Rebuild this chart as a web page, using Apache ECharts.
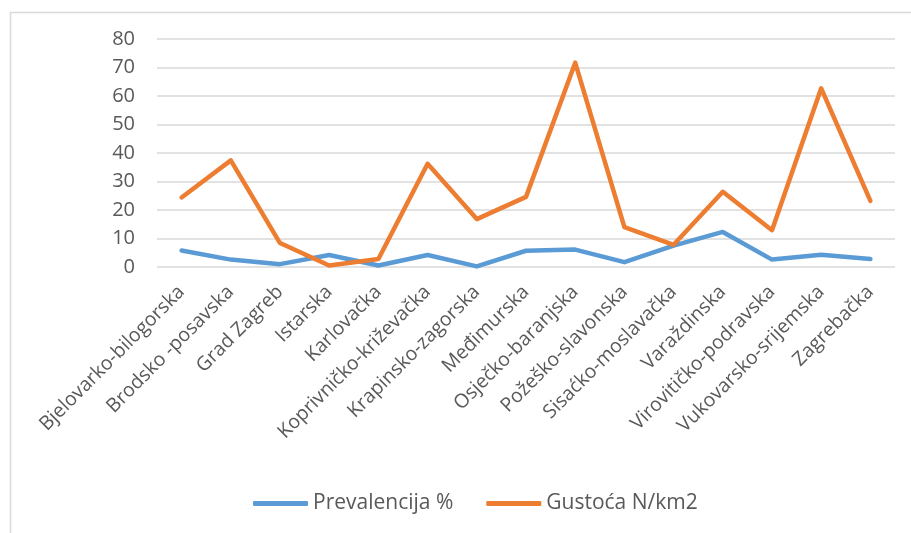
<!DOCTYPE html>
<html>
<head>
<meta charset="utf-8">
<script src="https://cdn.jsdelivr.net/npm/echarts@6/dist/echarts.min.js"></script>
<style>html,body{margin:0;padding:0;background:#fff;}#c{width:911px;height:533px;}</style>
</head>
<body>
<div id="c"></div>
<script>
const categories = ["Bjelovarko-bilogorska","Brodsko -posavska","Grad Zagreb","Istarska","Karlovačka","Koprivničko-križevačka","Krapinsko-zagorska","Međimurska","Osječko-baranjska","Požeško-slavonska","Sisaćko-moslavačka","Varaždinska","Virovitičko-podravska","Vukovarsko-srijemska","Zagrebačka"];
const prevalencija = [5.8, 2.6, 1.0, 4.2, 0.5, 4.2, 0.2, 5.7, 6.1, 1.7, 7.5, 12.3, 2.6, 4.3, 2.8];
const gustoca = [24.4, 37.4, 8.4, 0.5, 2.8, 36.2, 16.8, 24.6, 71.7, 14.0, 7.8, 26.4, 12.9, 62.7, 23.2];
const yTicks = {min: 0, max: 80, interval: 10};

const FONT = '"Open Sans", sans-serif';
const chart = echarts.init(document.getElementById('c'));
chart.setOption({
  animation: false,
  backgroundColor: '#fff',
  graphic: [{
    type: 'rect', left: 8, top: 10, silent: true,
    shape: {x: 0, y: 0, width: 1200, height: 1200},
    style: {fill: 'none', stroke: '#d9d9d9', lineWidth: 1.5}
  }],
  grid: {left: 157, right: 16, top: 39, bottom: 266, containLabel: false},
  legend: {
    top: 488, left: 248,
    icon: 'roundRect', itemWidth: 55, itemHeight: 5, itemGap: 33,
    textStyle: {color: '#595959', fontSize: 21, fontFamily: FONT},
    data: ['Prevalencija %', 'Gustoća N/km2']
  },
  xAxis: {
    type: 'category', data: categories, boundaryGap: true,
    axisLine: {show: false}, axisTick: {show: false},
    axisLabel: {rotate: 45, interval: 0, color: '#595959', fontSize: 19.5, fontFamily: FONT, margin: 22}
  },
  yAxis: {
    type: 'value', min: yTicks.min, max: yTicks.max, interval: yTicks.interval,
    axisLine: {show: false}, axisTick: {show: false},
    axisLabel: {color: '#595959', fontSize: 20, fontFamily: FONT, margin: 22},
    splitLine: {lineStyle: {color: '#d9d9d9', width: 1.5}}
  },
  series: [
    {name: 'Prevalencija %', type: 'line', data: prevalencija, symbol: 'none',
     lineStyle: {color: '#5B9BD5', width: 4.5, cap: 'round', join: 'round'}, itemStyle: {color: '#5B9BD5'}},
    {name: 'Gustoća N/km2', type: 'line', data: gustoca, symbol: 'none',
     lineStyle: {color: '#ED7D31', width: 4.5, cap: 'round', join: 'round'}, itemStyle: {color: '#ED7D31'}}
  ]
});
</script>
</body>
</html>
